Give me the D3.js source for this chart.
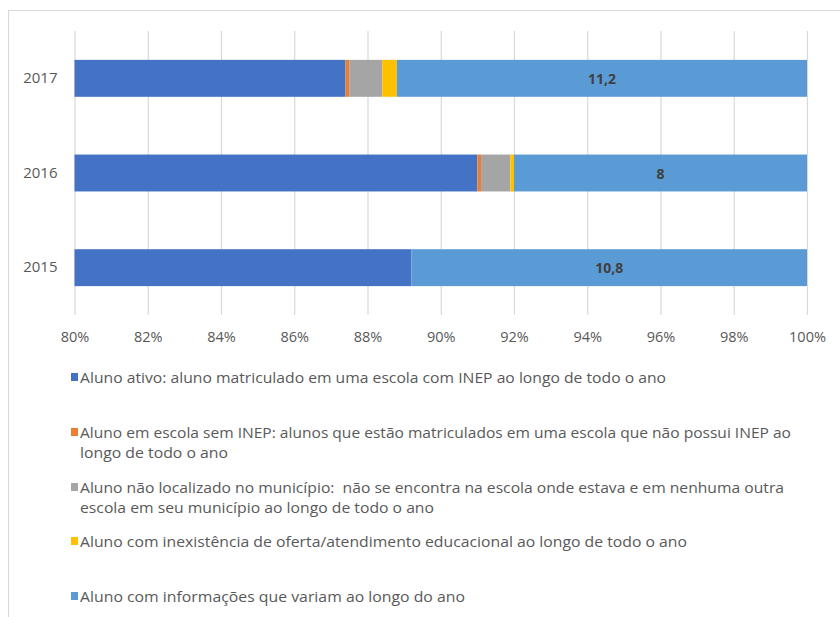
<!DOCTYPE html>
<html>
<head>
<meta charset="utf-8">
<script src="https://cdn.jsdelivr.net/npm/d3@7"></script>
<style>
  html, body { margin: 0; padding: 0; background: #fff; }
  svg { display: block; }
  text { font-family: "Open Sans", "Liberation Sans", Arial, sans-serif; white-space: pre; }
</style>
</head>
<body>
<svg id="chart" width="840" height="617"></svg>
<script>
// Situação dos alunos por ano (participação percentual)
const years = ["2017", "2016", "2015"];
const ativo = [87.4, 91.0, 89.2];
const semInep = [0.1, 0.1, 0];
const naoLocalizado = [0.9, 0.8, 0];
const inexistencia = [0.4, 0.1, 0];
const variam = [11.2, 8, 10.8];
const tickValues = [80, 82, 84, 86, 88, 90, 92, 94, 96, 98, 100];

const seriesKeys = ["ativo", "semInep", "naoLocalizado", "inexistencia", "variam"];
const seriesColors = ["#4472C4", "#ED7D31", "#A5A5A5", "#FFC000", "#5B9BD5"];
const legendLines = [
  ["Aluno ativo: aluno matriculado em uma escola com INEP ao longo de todo o ano"],
  ["Aluno em escola sem INEP: alunos que estão matriculados em uma escola que não possui INEP ao",
   "longo de todo o ano"],
  ["Aluno não localizado no município:  não se encontra na escola onde estava e em nenhuma outra",
   "escola em seu município ao longo de todo o ano"],
  ["Aluno com inexistência de oferta/atendimento educacional ao longo de todo o ano"],
  ["Aluno com informações que variam ao longo do ano"]
];

const rows = years.map((y, i) => ({
  year: y,
  ativo: ativo[i],
  semInep: semInep[i],
  naoLocalizado: naoLocalizado[i],
  inexistencia: inexistencia[i],
  variam: variam[i]
}));

const svg = d3.select("#chart");

// outer chart frame
svg.append("rect")
  .attr("x", 8.5).attr("y", 10.5)
  .attr("width", 900).attr("height", 700)
  .attr("fill", "none").attr("stroke", "#d9d9d9").attr("stroke-width", 1);

const plotTop = 31, plotBottom = 315;
const x = d3.scaleLinear().domain([80, 100]).range([74.5, 807]).clamp(true);
const y = d3.scaleBand().domain(years).range([plotTop, plotBottom])
  .paddingInner(0.61).paddingOuter(0.305);

// vertical gridlines
const grid = svg.append("g").attr("transform", `translate(0,${plotTop})`)
  .call(d3.axisBottom(x).tickValues(tickValues).tickSize(plotBottom - plotTop).tickFormat(""));
grid.select(".domain").remove();
grid.selectAll("line").attr("stroke", "#d9d9d9").attr("stroke-width", 1.2);

// x axis labels
const xAxis = svg.append("g").attr("transform", `translate(0,${plotBottom})`)
  .call(d3.axisBottom(x).tickValues(tickValues).tickSize(0).tickPadding(17).tickFormat(d => d + "%"));
xAxis.select(".domain").remove();
xAxis.selectAll("text")
  .attr("fill", "#595959").attr("font-size", "14.5px")
  .style("font-family", "'Open Sans', Arial, sans-serif");

// y axis labels
const yAxis = svg.append("g").attr("transform", `translate(${x(80)},0)`)
  .call(d3.axisLeft(y).tickSize(0).tickPadding(17));
yAxis.select(".domain").remove();
yAxis.selectAll("text")
  .attr("fill", "#595959").attr("font-size", "15px")
  .style("font-family", "'Open Sans', Arial, sans-serif");

// stacked bars
const stacked = d3.stack().keys(seriesKeys)(rows);
const layers = svg.append("g").selectAll("g")
  .data(stacked).join("g")
  .attr("fill", (d, i) => seriesColors[i]);

layers.selectAll("rect")
  .data(d => d.map(p => ({ p, year: p.data.year })))
  .join("rect")
  .attr("x", d => x(d.p[0]))
  .attr("y", d => y(d.year))
  .attr("width", d => Math.max(0, x(d.p[1]) - x(d.p[0])))
  .attr("height", y.bandwidth());

// value labels on the last segment
const lastLayer = stacked[stacked.length - 1];
svg.append("g").selectAll("text")
  .data(lastLayer)
  .join("text")
  .attr("x", d => (x(d[0]) + x(d[1])) / 2)
  .attr("y", d => y(d.data.year) + y.bandwidth() / 2)
  .attr("text-anchor", "middle")
  .attr("dominant-baseline", "central")
  .attr("font-size", "14px")
  .attr("font-weight", "bold")
  .attr("fill", "#404040")
  .text(d => String(d.data.variam).replace(".", ","));

// legend
const legendRowY = [377, 432, 487, 541, 596];
const lineWidths = [[586], [711, 148], [704, 354], [607], [385]];
const legend = svg.append("g");
legendLines.forEach((lines, i) => {
  const g = legend.append("g").attr("transform", `translate(0,${legendRowY[i]})`);
  g.append("rect")
    .attr("x", 71).attr("y", -4).attr("width", 7).attr("height", 8)
    .attr("fill", seriesColors[i]);
  lines.forEach((t, j) => {
    g.append("text")
      .attr("x", 80).attr("y", j * 20)
      .attr("dominant-baseline", "central")
      .attr("font-size", "15px")
      .attr("fill", "#595959")
      .attr("textLength", lineWidths[i][j])
      .attr("lengthAdjust", "spacingAndGlyphs")
      .text(t);
  });
});
</script>
</body>
</html>
